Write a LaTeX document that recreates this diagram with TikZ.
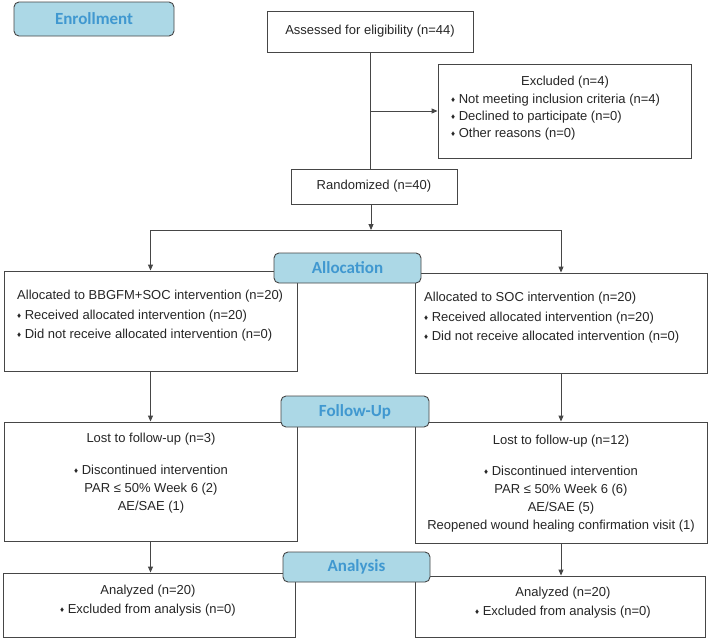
\documentclass[tikz,border=0pt]{standalone}
\usepackage{fontspec}
\setmainfont{Liberation Sans}
\newfontfamily\hdrfont{Carlito}
\usetikzlibrary{arrows.meta}
\definecolor{hdrfill}{RGB}{172,216,230}
\definecolor{hdrtext}{RGB}{64,152,208}
\definecolor{linegray}{RGB}{70,70,70}
\newcommand{\bul}{{\fontsize{8}{8}\selectfont\raisebox{0.25ex}{♦}}\hspace{3.5pt}}

\tikzset{
  box/.style={draw=linegray, line width=0.9pt, fill=white, inner sep=0pt,
    font=\fontsize{13}{18}\selectfont, text=black!85},
  hdr/.style={draw=linegray, line width=0.9pt, fill=hdrfill, rounded corners=5pt,
    text=hdrtext, font=\hdrfont\bfseries\fontsize{17}{20}\selectfont},
  txt/.style={inner sep=0pt, text=black!85, font=\fontsize{13}{18}\selectfont},
  arr/.style={draw=linegray, line width=0.9pt, -{Triangle[length=6pt,width=5pt]}},
  ln/.style={draw=linegray, line width=0.9pt},
}

\begin{document}
\begin{tikzpicture}[x=1pt, y=-1pt]
  \fill[white] (0,0) rectangle (709,640);
  \useasboundingbox (0,0) rectangle (709,640);

  % enrollment
  \node[box, minimum width=206pt, minimum height=41pt] (assess) at (370,31.5) {Assessed for eligibility (n=44)};
  \node[box, minimum width=253pt, minimum height=94pt] (excl) at (564.5,111) {};
  \node[txt] (exclt) at (565,82) {Excluded (n=4)};
  \node[txt, anchor=west, align=left, font=\fontsize{13}{17}\selectfont] (exclb) at (451,117)
    {\bul Not meeting inclusion criteria (n=4)\\ \bul Declined to participate (n=0)\\ \bul Other reasons (n=0)};
  \node[box, minimum width=166pt, minimum height=35pt] (rand) at (374,186.5) {Randomized (n=40)};
  \coordinate (split) at (371,230);

  % allocation
  \node[box, minimum width=293pt, minimum height=100pt] (alloc1) at (150.5,321) {};
  \node[txt, anchor=west, align=left, font=\fontsize{13}{19.5}\selectfont] (alloc1t) at (17,316)
    {Allocated to BBGFM+SOC intervention (n=20)\\ \bul Received allocated intervention (n=20)\\ \bul Did not receive allocated intervention (n=0)};
  \node[box, minimum width=292pt, minimum height=100pt] (alloc2) at (561,323) {};
  \node[txt, anchor=west, align=left, font=\fontsize{13}{19.5}\selectfont] (alloc2t) at (424,318)
    {Allocated to SOC intervention (n=20)\\ \bul Received allocated intervention (n=20)\\ \bul Did not receive allocated intervention (n=0)};

  % follow-up
  \node[box, minimum width=293pt, minimum height=119pt] (fu1) at (150.5,481.5) {};
  \node[txt] (fu1t) at (151,439) {Lost to follow-up (n=3)};
  \node[txt, align=center] (fu1b) at (151,489)
    {\bul Discontinued intervention\\ PAR ≤ 50\% Week 6 (2)\\ AE/SAE (1)};
  \node[box, minimum width=292pt, minimum height=121pt] (fu2) at (561,482.5) {};
  \node[txt] (fu2t) at (561,441) {Lost to follow-up (n=12)};
  \node[txt, align=center] (fu2b) at (561,499)
    {\bul Discontinued intervention\\ PAR ≤ 50\% Week 6 (6)\\ AE/SAE (5)\\ Reopened wound healing confirmation visit (1)};

  % analysis
  \node[box, minimum width=292pt, minimum height=64pt] (an1) at (149,605) {};
  \node[txt, align=center, font=\fontsize{13}{19}\selectfont] (an1t) at (148,600.5)
    {Analyzed (n=20)\\ \bul Excluded from analysis (n=0)};
  \node[box, minimum width=290pt, minimum height=61pt] (an2) at (560,606.5) {};
  \node[txt, align=center, font=\fontsize{13}{19}\selectfont] (an2t) at (563,602.5)
    {Analyzed (n=20)\\ \bul Excluded from analysis (n=0)};

  % stage headers
  \node[hdr, minimum width=160pt, minimum height=34pt] (henroll) at (94,19) {Enrollment};
  \node[hdr, minimum width=147pt, minimum height=30pt] (halloc) at (347.5,268) {Allocation};
  \node[hdr, minimum width=148pt, minimum height=31pt] (hfu) at (355,411.5) {Follow-Up};
  \node[hdr, minimum width=147pt, minimum height=30pt] (han) at (356.5,567) {Analysis};

  % connectors
  \draw[ln] (assess.south) -- (assess.south |- rand.north);
  \draw[arr] (assess.south |- excl.west) -- (excl.west);
  \draw[arr] (split |- rand.south) -- (split);
  \draw[ln] (split) -- (split -| alloc1.north);
  \draw[ln] (split) -- (split -| alloc2.north);
  \draw[arr] (split -| alloc1.north) -- (alloc1.north);
  \draw[arr] (split -| alloc2.north) -- (alloc2.north);
  \draw[arr] (alloc1.south) -- (fu1.north);
  \draw[arr] (alloc2.south) -- (fu2.north);
  \draw[arr] (fu1.south) -- (fu1.south |- an1.north);
  \draw[arr] (fu2.south) -- (fu2.south |- an2.north);
\end{tikzpicture}
\end{document}
